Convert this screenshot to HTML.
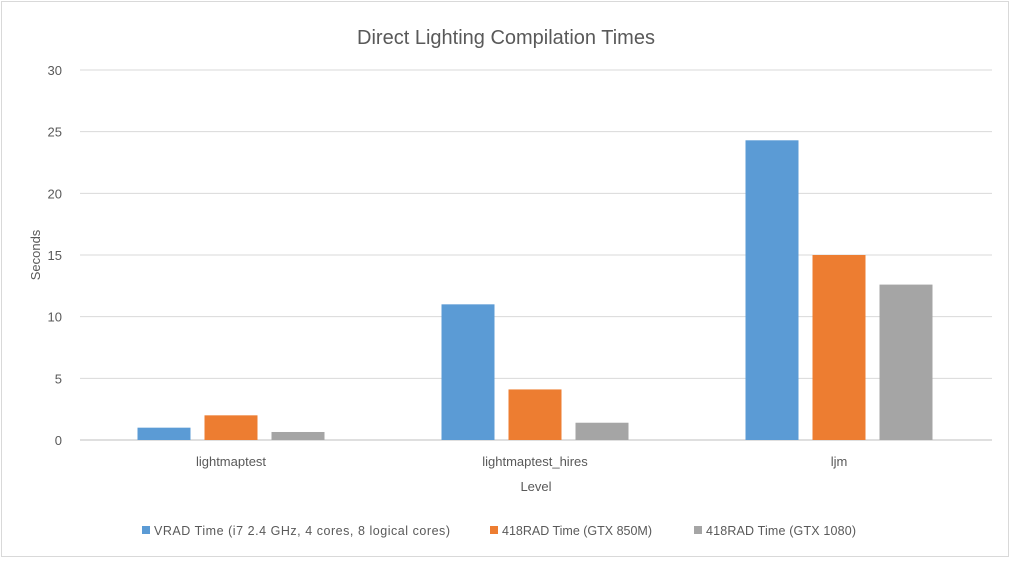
<!DOCTYPE html>
<html><head><meta charset="utf-8"><style>
body{margin:0;background:#fff;width:1012px;height:569px;overflow:hidden;font-family:"Liberation Sans",sans-serif}
</style></head><body>
<svg id="chart" width="1012" height="569" xmlns="http://www.w3.org/2000/svg">
<rect x="1.5" y="1.5" width="1007" height="555" fill="#fff" stroke="#d9d9d9"/>
<text x="506" y="44" text-anchor="middle" font-size="20" fill="#595959">Direct Lighting Compilation Times</text>
<g id="grid"></g><g id="bars"></g><g id="labels"></g>
<text transform="translate(40,255) rotate(-90)" text-anchor="middle" font-size="13" fill="#595959">Seconds</text>
<text x="536" y="491" text-anchor="middle" font-size="13" fill="#595959">Level</text>
<g font-size="12.5" fill="#595959">
<rect x="142" y="526" width="8" height="8" fill="#5b9bd5"/>
<text x="154" y="535" textLength="296">VRAD Time (i7 2.4 GHz, 4 cores, 8 logical cores)</text>
<rect x="490" y="526" width="8" height="8" fill="#ed7d31"/>
<text x="502" y="535" textLength="150">418RAD Time (GTX 850M)</text>
<rect x="694" y="526" width="8" height="8" fill="#a5a5a5"/>
<text x="706" y="535" textLength="150">418RAD Time (GTX 1080)</text>
</g>
</svg>
<script>
const categories=["lightmaptest","lightmaptest_hires","ljm"];
const vrad=[1.0,11.0,24.3];
const gtx850=[2.0,4.1,15.0];
const gtx1080=[0.65,1.4,12.6];
const yTicks=[0,5,10,15,20,25,30];
const series=[vrad,gtx850,gtx1080];
const colors=["#5b9bd5","#ed7d31","#a5a5a5"];
const names=["vrad","gtx850m","gtx1080"];
const NS="http://www.w3.org/2000/svg";
const x0=80,x1=992,y0=440,y1=70;
const y=v=>y0-(v/30)*(y0-y1);
const bw=(x1-x0)/categories.length;
const xc=i=>x0+bw*(i+0.5)-1;
const grid=document.getElementById('grid'),bars=document.getElementById('bars'),labels=document.getElementById('labels');
yTicks.forEach(t=>{
 const l=document.createElementNS(NS,'line');
 
 
 l.setAttribute('x1',x0);l.setAttribute('x2',x1);l.setAttribute('y1',y(t));l.setAttribute('y2',y(t));
 l.setAttribute('stroke',t===0?'#bfbfbf':'#d9d9d9');l.setAttribute('stroke-width','1');
 grid.appendChild(l);
 const tx=document.createElementNS(NS,'text');
 
 
 tx.setAttribute('x',62);tx.setAttribute('y',y(t)+5);tx.setAttribute('text-anchor','end');
 tx.setAttribute('font-size','13');tx.setAttribute('fill','#595959');tx.textContent=t;
 labels.appendChild(tx);
});
categories.forEach((c,i)=>{
 const tx=document.createElementNS(NS,'text');
 
 
 tx.setAttribute('x',xc(i));tx.setAttribute('y',466);tx.setAttribute('text-anchor','middle');
 tx.setAttribute('font-size','13');tx.setAttribute('fill','#595959');tx.textContent=c;
 labels.appendChild(tx);
 series.forEach((s,j)=>{
  const r=document.createElementNS(NS,'rect');
  
  
  const w=53,gap=14;
  r.setAttribute('x',xc(i)+(j-1)*(w+gap)-w/2);
  r.setAttribute('y',y(s[i]));r.setAttribute('width',w);r.setAttribute('height',y0-y(s[i]));
  r.setAttribute('fill',colors[j]);
  bars.appendChild(r);
 });
});
</script>
</body></html>
